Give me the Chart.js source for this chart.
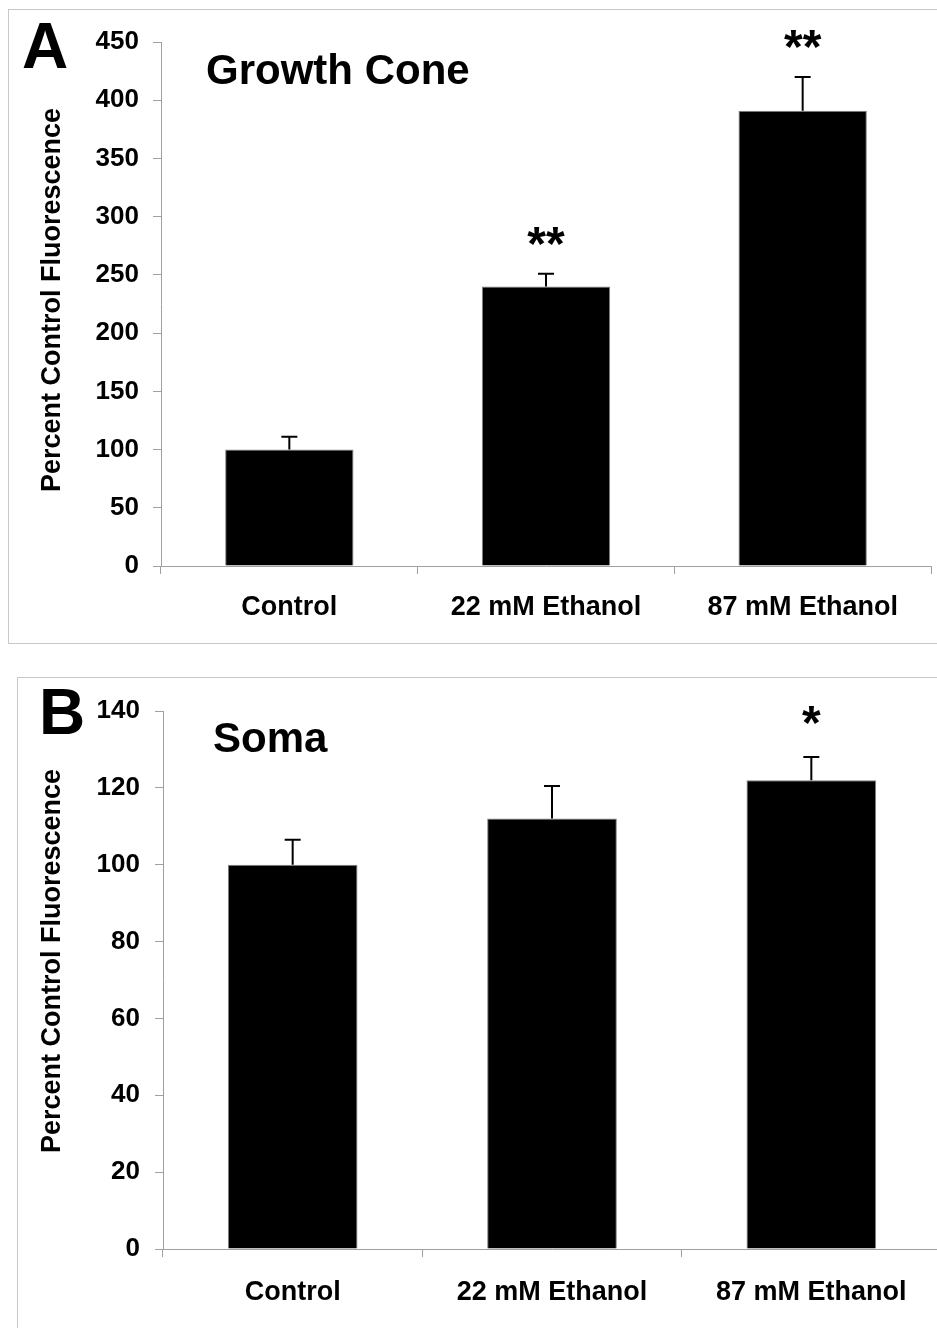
<!DOCTYPE html>
<html>
<head>
<meta charset="utf-8">
<script src="https://cdn.jsdelivr.net/npm/chart.js@4.4.1/dist/chart.umd.min.js"></script>
<style>
  html, body { margin: 0; padding: 0; background: #fff; overflow: hidden; }
  #page { position: relative; width: 937px; height: 1328px; overflow: hidden; }
  .frame { position: absolute; border: 1px solid #c8c8c8; }
  #frameA { left: 8px; top: 9px; width: 1000px; height: 633px; }
  #frameB { left: 17px; top: 677px; width: 1000px; height: 700px; }
  canvas { position: absolute; left: 0; }
  #chartA { top: 0; }
  #chartB { top: 660px; }
</style>
</head>
<body>
<div id="page">
  <div class="frame" id="frameA"></div>
  <div class="frame" id="frameB"></div>
  <canvas id="chartA" width="937" height="650"></canvas>
  <canvas id="chartB" width="945" height="668"></canvas>
</div>
<script>
const categories = ['Control', '22 mM Ethanol', '87 mM Ethanol'];

// panel A - growth cone
const coneMeans = [100, 240, 391];
const coneErrors = [11, 11, 29];
const coneStars = ['', '**', '**'];
const coneMax = 450, coneStep = 50;

// panel B - soma
const somaMeans = [100, 112, 122];
const somaErrors = [6.5, 8.5, 6];
const somaStars = ['', '', '*'];
const somaMax = 140, somaStep = 20;

const yTitle = 'Percent Control Fluorescence';
const FONT = '"Liberation Sans", Arial, sans-serif';
Chart.defaults.font.family = FONT;
Chart.defaults.color = '#000';

function errorPlugin(means, errors, stars, starGap) {
    return {
        id: 'errorBars',
        afterDatasetsDraw(chart) {
            const ctx = chart.ctx;
            const y = chart.scales.y;
            ctx.save();
            ctx.strokeStyle = '#000';
            ctx.fillStyle = '#000';
            ctx.lineWidth = 2;
            chart.getDatasetMeta(0).data.forEach((bar, i) => {
                const top = y.getPixelForValue(means[i] + errors[i]);
                ctx.beginPath();
                ctx.moveTo(bar.x, bar.y);
                ctx.lineTo(bar.x, top);
                ctx.moveTo(bar.x - 8, top);
                ctx.lineTo(bar.x + 8, top);
                ctx.stroke();
                if (stars[i]) {
                    ctx.font = 'bold 48px ' + FONT;
                    ctx.textAlign = 'center';
                    ctx.textBaseline = 'alphabetic';
                    ctx.fillText(stars[i], bar.x, top - starGap);
                }
            });
            ctx.restore();
        }
    };
}

function labelPlugin(letter, lx, ly, title, tx, ty, titleY) {
    return {
        id: 'panelText',
        afterDraw(chart) {
            const ctx = chart.ctx;
            ctx.save();
            ctx.fillStyle = '#000';
            ctx.textBaseline = 'alphabetic';
            ctx.textAlign = 'left';
            ctx.font = 'bold 64px ' + FONT;
            ctx.fillText(letter, lx, ly);
            ctx.font = 'bold 42px ' + FONT;
            ctx.fillText(title, tx, ty);
            // y axis title
            ctx.translate(53, titleY);
            ctx.rotate(-Math.PI / 2);
            ctx.textAlign = 'center';
            ctx.textBaseline = 'middle';
            ctx.font = 'bold 27px ' + FONT;
            ctx.fillText(yTitle, 0, 0);
            ctx.restore();
        }
    };
}

function makeChart(id, means, max, step, yWidth, xHeight, pad, tickPad, xPad, plugins) {
    return new Chart(document.getElementById(id), {
        type: 'bar',
        data: {
            labels: categories,
            datasets: [{
                data: means,
                backgroundColor: '#000',
                borderColor: '#808080',
                borderWidth: 1,
                categoryPercentage: 1,
                barPercentage: 0.5
            }]
        },
        options: {
            responsive: false,
            animation: false,
            layout: { padding: pad },
            plugins: { legend: { display: false }, tooltip: { enabled: false } },
            scales: {
                x: {
                    afterFit: s => { s.height = xHeight; },
                    grid: { offset: true, drawOnChartArea: false, tickLength: 8, color: '#a0a0a0' },
                    border: { color: '#a0a0a0' },
                    ticks: { font: { size: 27, weight: 'bold' }, padding: xPad, maxRotation: 0 }
                },
                y: {
                    min: 0,
                    max: max,
                    afterFit: s => { s.width = yWidth; },
                    grid: { drawOnChartArea: false, tickLength: 8, color: '#a0a0a0' },
                    border: { color: '#a0a0a0' },
                    ticks: { stepSize: step, font: { size: 26, weight: 'bold' }, padding: tickPad }
                }
            }
        },
        plugins: plugins
    });
}

makeChart('chartA', coneMeans, coneMax, coneStep,
    161, 84, { top: 42, right: 6, left: 0, bottom: 0 }, 14, 17,
    [errorPlugin(coneMeans, coneErrors, coneStars, 14),
     labelPlugin('A', 22, 68, 'Growth Cone', 206, 84, 300)]);

makeChart('chartB', somaMeans, somaMax, somaStep,
    163, 79, { top: 51, right: 4, left: 0, bottom: 0 }, 15, 19,
    [errorPlugin(somaMeans, somaErrors, somaStars, 18),
     labelPlugin('B', 39, 74, 'Soma', 213, 92, 301)]);
</script>
</body>
</html>
